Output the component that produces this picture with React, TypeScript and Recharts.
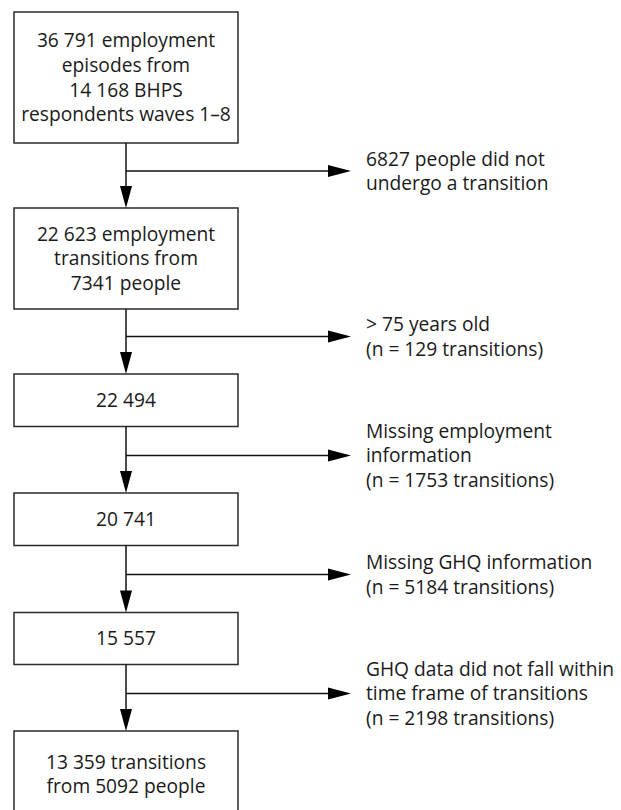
import { ComposedChart, ReferenceArea, ReferenceLine, Scatter, XAxis, YAxis } from "recharts";

// flow stages (box text) and the exclusions that branch off between them
const stageLines = [
  ["36 791 employment", "episodes from", "14 168 BHPS", "respondents waves 1–8"],
  ["22 623 employment", "transitions from", "7341 people"],
  ["22 494"],
  ["20 741"],
  ["15 557"],
  ["13 359 transitions", "from 5092 people"],
];

const exclusionLines = [
  ["6827 people did not", "undergo a transition"],
  ["> 75 years old", "(n = 129 transitions)"],
  ["Missing employment", "information", "(n = 1753 transitions)"],
  ["Missing GHQ information", "(n = 5184 transitions)"],
  ["GHQ data did not fall within", "time frame of transitions", "(n = 2198 transitions)"],
];

// layout in chart units (1 unit = 1px)
const W = 621;
const H = 810;
const boxLeft = 14;
const boxRight = 238;
const spineX = 126;
const arrowTipX = 351;
const noteX = 366;
const stageTop = [12, 208, 374, 493, 612.5, 731];
const stageBottom = [143, 309, 426.5, 545.5, 664.5, 817];
const branchY = [171, 336.5, 455.5, 574.5, 693.5];

const FONT = "'Open Sans', sans-serif";
const FS = 19.2;
const CAP = 13.7;
const LH = 24.6;
const INK = "#1a1a1a";
const EDGE = "#2b2b2b";

const boxText = stageLines.map((lines, i) => ({
  x: spineX,
  y: (stageTop[i] + stageBottom[i]) / 2,
  lines,
}));
const noteText = exclusionLines.map((lines, i) => ({ x: noteX, y: branchY[i], lines }));
const downTips = stageTop.slice(1).map((y) => ({ x: spineX, y }));
const rightTips = branchY.map((y) => ({ x: arrowTipX, y }));

function TextBlock(props: any) {
  const { cx, cy, payload } = props;
  const anchor = props.anchor as string;
  const lines: string[] = payload.lines;
  const first = cy - ((lines.length - 1) * LH + CAP) / 2 + CAP;
  return (
    <g>
      {lines.map((l, k) => (
        <text
          key={k}
          x={cx}
          y={first + k * LH}
          textAnchor={anchor}
          fontFamily={FONT}
          fontSize={FS}
          fill={INK}
        >
          {l}
        </text>
      ))}
    </g>
  );
}

function DownHead({ cx, cy }: any) {
  return <path d={`M${cx},${cy} L${cx - 6},${cy - 22} L${cx + 6},${cy - 22} Z`} fill="#000" />;
}

function RightHead({ cx, cy }: any) {
  return <path d={`M${cx},${cy} L${cx - 23},${cy - 6} L${cx - 23},${cy + 6} Z`} fill="#000" />;
}

export default function App() {
  return (
    <div style={{ position: "absolute", left: 0, top: 0, background: "#fff" }}>
      <ComposedChart width={W} height={H} margin={{ top: 0, right: 0, bottom: 0, left: 0 }}>
        <XAxis type="number" dataKey="x" domain={[0, W]} hide allowDataOverflow />
        <YAxis type="number" dataKey="y" domain={[0, H]} reversed hide allowDataOverflow />

        {/* spine segments between boxes */}
        {stageBottom.slice(0, -1).map((b, i) => (
          <ReferenceLine
            key={`v${i}`}
            segment={[{ x: spineX, y: b }, { x: spineX, y: stageTop[i + 1] - 10 }]}
            stroke="#111"
            strokeWidth={1.5}
            ifOverflow="visible"
          />
        ))}
        {branchY.map((y, i) => (
          <ReferenceLine
            key={`h${i}`}
            segment={[{ x: spineX, y }, { x: arrowTipX - 10, y }]}
            stroke="#111"
            strokeWidth={1.5}
            ifOverflow="visible"
          />
        ))}

        {stageTop.map((t, i) => (
          <ReferenceArea
            key={`b${i}`}
            x1={boxLeft}
            x2={boxRight}
            y1={t}
            y2={stageBottom[i]}
            fill="#fff"
            fillOpacity={1}
            stroke={EDGE}
            strokeWidth={1.5}
            ifOverflow="visible"
          />
        ))}

        <Scatter data={downTips} shape={DownHead} isAnimationActive={false} />
        <Scatter data={rightTips} shape={RightHead} isAnimationActive={false} />
        <Scatter
          data={boxText}
          shape={(p: any) => <TextBlock {...p} anchor="middle" />}
          isAnimationActive={false}
        />
        <Scatter
          data={noteText}
          shape={(p: any) => <TextBlock {...p} anchor="start" />}
          isAnimationActive={false}
        />
      </ComposedChart>
    </div>
  );
}
